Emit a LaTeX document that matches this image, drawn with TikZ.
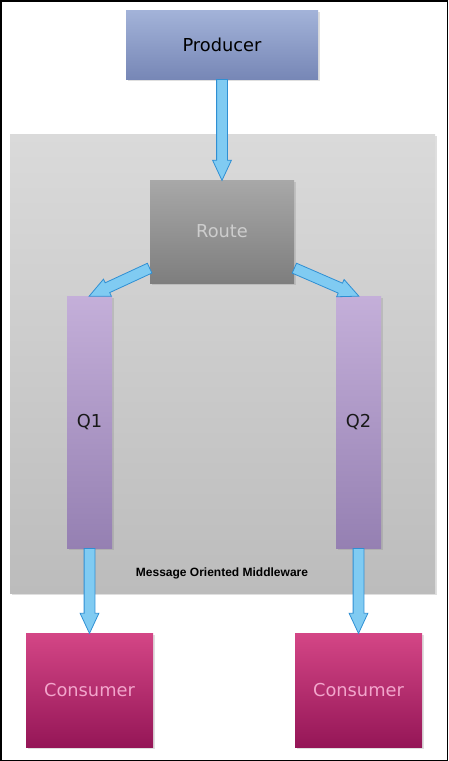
\documentclass[tikz,border=0pt]{standalone}
\usepackage{fontspec}
\setmainfont{DejaVu Sans}
\newfontfamily\labelfont{Liberation Sans}
\usepackage{tikz}
\usetikzlibrary{calc,positioning,shapes.arrows,shadows}

\definecolor{prodtop}{HTML}{A3B3D9}
\definecolor{prodbot}{HTML}{7787B6}
\definecolor{momtop}{HTML}{DADADA}
\definecolor{mombot}{HTML}{BCBCBC}
\definecolor{routetop}{HTML}{A8A8A8}
\definecolor{routebot}{HTML}{7E7E7E}
\definecolor{routetext}{HTML}{CDCDCD}
\definecolor{qtop}{HTML}{C4AFD9}
\definecolor{qbot}{HTML}{9580B2}
\definecolor{constop}{HTML}{D44686}
\definecolor{consbot}{HTML}{951657}
\definecolor{constext}{HTML}{F2A6CC}
\definecolor{flowfill}{HTML}{80CBF2}
\definecolor{flowline}{HTML}{2F8FD3}

\tikzset{
  box/.style={rectangle, inner sep=0pt, outer sep=0pt, font=\fontsize{17.8}{20}\selectfont,
    drop shadow={shadow xshift=1.5pt, shadow yshift=-1.5pt, opacity=0.25}},
  flow/.style={single arrow, draw=flowline, fill=flowfill, line width=0.8pt,
    inner xsep=0pt, inner ysep=5pt, single arrow head extend=4pt,
    single arrow tip angle=50, anchor=tail}
}

\newcommand{\blockarrow}[2]{%
  \path let \p1=($(#2)-(#1)$), \n1={veclen(\x1,\y1)}, \n2={atan2(\y1,\x1)} in
    node[flow, minimum height=\n1, rotate=\n2] at (#1) {};}

\begin{document}
\begin{tikzpicture}[x=1pt,y=-1pt]
\useasboundingbox (0,0) rectangle (448,761);

% middleware panel
\node[box, top color=momtop, bottom color=mombot, minimum width=425, minimum height=459] (mom) at (222.5,363.5) {};
\node[font=\labelfont\bfseries\fontsize{12}{14}\selectfont] (momlabel) at (222,573) {Message Oriented Middleware};

\node[box, top color=prodtop, bottom color=prodbot, minimum width=192, minimum height=69] (producer) at (222,44.5) {Producer};
\node[box, top color=routetop, bottom color=routebot, text=routetext, minimum width=144, minimum height=103] (route) at (222,231.5) {Route};

\node[box, top color=qtop, bottom color=qbot, text=black!90, minimum width=45, minimum height=252] (q1) at (89.5,422) {Q1};
\node[box, top color=qtop, bottom color=qbot, text=black!90, minimum width=45, minimum height=252] (q2) at (358.5,422) {Q2};

\node[box, top color=constop, bottom color=consbot, text=constext, minimum width=127, minimum height=114] (consumer1) at (89.5,690) {Consumer};
\node[box, top color=constop, bottom color=consbot, text=constext, minimum width=127, minimum height=114] (consumer2) at (358.5,690) {Consumer};

\coordinate (rleft) at ($(route.south west)+(0,-15)$);
\coordinate (rright) at ($(route.south east)+(0,-15)$);

\blockarrow{producer.south}{route.north}
\blockarrow{rleft}{q1.north}
\blockarrow{rright}{q2.north}
\blockarrow{q1.south}{consumer1.north}
\blockarrow{q2.south}{consumer2.north}

% frame
\draw[line width=1.5pt] (0.75,0.75) rectangle (447.25,760.25);
\end{tikzpicture}
\end{document}
